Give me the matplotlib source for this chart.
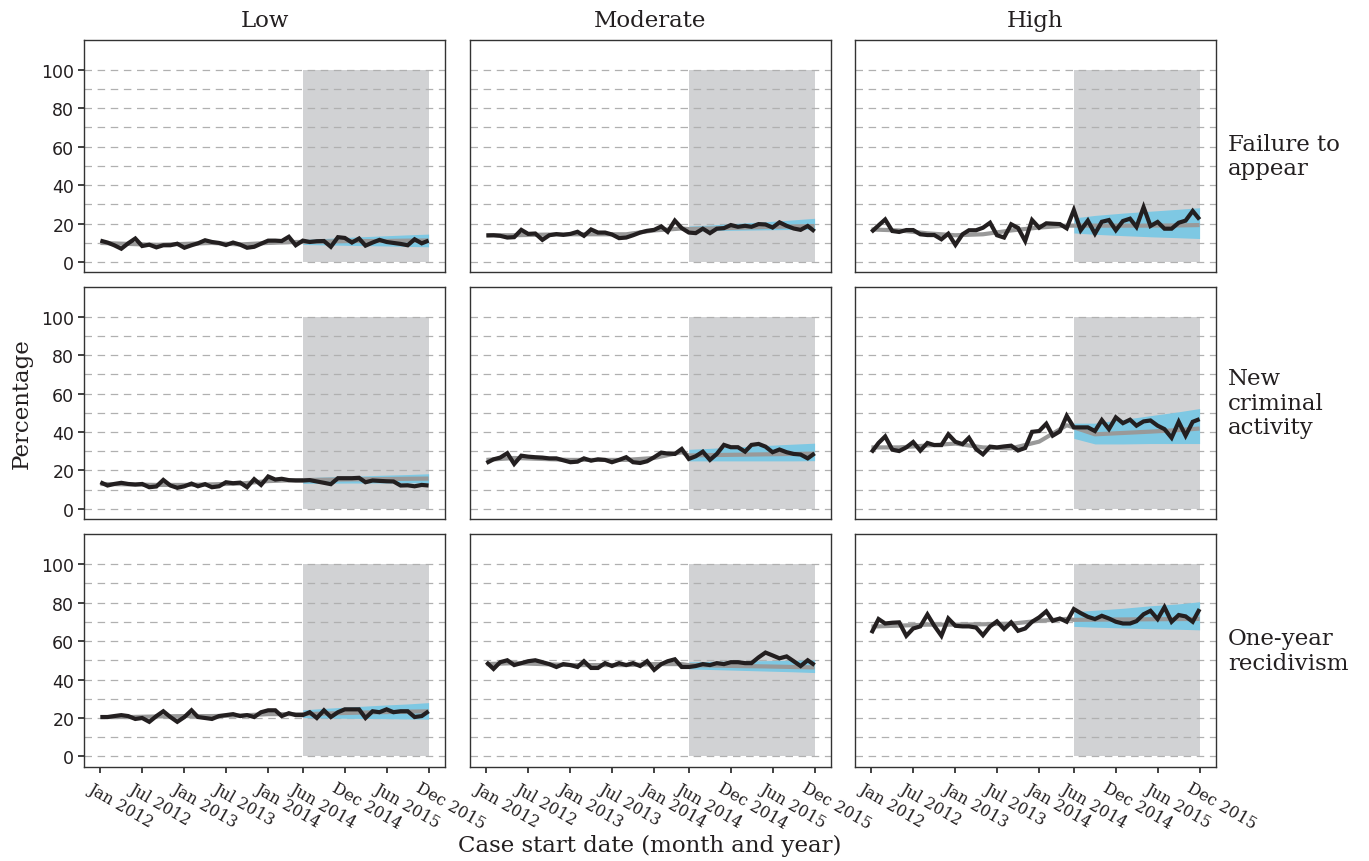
import matplotlib
matplotlib.use('Agg')
import matplotlib.pyplot as plt
import matplotlib.dates as mdates
import matplotlib.transforms as mtransforms
from matplotlib.ticker import MultipleLocator, FixedLocator
import pandas as pd

# ---------------- data ----------------
risk_levels = ['Low', 'Moderate', 'High']
outcomes = ['Failure to\nappear', 'New\ncriminal\nactivity', 'One-year\nrecidivism']
months = pd.date_range('2012-01-01', '2015-12-01', freq='MS')

tick_dates = ['2012-01-01', '2012-07-01', '2013-01-01', '2013-07-01', '2014-01-01',
              '2014-06-01', '2014-12-01', '2015-06-01', '2015-12-01']
tick_labels = ['Jan 2012', 'Jul 2012', 'Jan 2013', 'Jul 2013', 'Jan 2014',
               'Jun 2014', 'Dec 2014', 'Jun 2015', 'Dec 2015']
y_ticks = [0, 20, 40, 60, 80, 100]

shade_start = '2014-06-01'
shade_end = '2015-12-01'
shade_bottom = 0
shade_top = 100

# observed monthly percentages
fta_low = [11.2, 10.2, 8.8, 7.0, 9.8, 12.3, 8.4, 9.1, 7.7, 8.8,
           8.8, 9.6, 7.5, 8.8, 9.8, 11.4, 10.5, 10.0, 8.9, 10.2,
           9.1, 7.5, 8.0, 9.6, 11.2, 11.2, 11.0, 13.2, 8.8, 11.2,
           10.5, 10.9, 11.0, 8.0, 13.0, 12.6, 10.2, 12.3, 8.6, 10.2,
           11.6, 10.5, 10.0, 9.5, 8.8, 11.9, 9.8, 11.2]
fta_mod = [13.9, 14.0, 13.7, 12.8, 13.0, 16.8, 14.7, 14.9, 11.6, 14.0,
           14.6, 14.2, 14.7, 15.8, 13.7, 17.0, 15.4, 15.4, 14.4, 12.5,
           12.8, 14.0, 15.4, 16.3, 16.8, 18.6, 15.8, 21.6, 17.7, 15.4,
           15.1, 17.4, 15.1, 17.4, 17.7, 19.3, 18.4, 18.9, 18.4, 19.8,
           19.6, 18.0, 20.7, 18.9, 17.5, 16.8, 18.8, 16.0]
fta_high = [15.7, 19.1, 22.2, 16.2, 15.7, 16.7, 16.7, 14.5, 14.1, 14.1,
            11.9, 14.8, 9.0, 14.5, 16.6, 16.6, 17.9, 20.5, 14.0, 12.8,
            19.7, 17.8, 11.0, 21.9, 17.9, 20.2, 20.0, 19.8, 17.6, 27.1,
            16.6, 21.6, 14.8, 21.0, 21.9, 16.6, 21.4, 22.6, 18.3, 28.6,
            18.8, 20.9, 17.4, 17.4, 20.5, 21.6, 26.6, 22.2]
nca_low = [13.9, 12.2, 13.0, 13.6, 13.0, 12.7, 13.0, 11.3, 11.7, 15.1,
           12.2, 11.0, 11.8, 13.2, 11.8, 12.9, 11.3, 11.8, 13.9, 13.4,
           13.7, 11.3, 15.5, 12.5, 16.9, 15.3, 15.7, 15.0, 14.8, 14.8,
           15.0, 14.3, 13.6, 12.9, 16.0, 16.0, 16.0, 16.2, 13.9, 14.8,
           14.6, 14.4, 14.3, 12.2, 12.3, 11.8, 12.5, 12.2]
nca_mod = [23.9, 25.8, 26.7, 29.0, 23.4, 27.7, 27.2, 26.9, 26.7, 26.3,
           26.3, 25.3, 24.3, 24.6, 26.3, 25.1, 25.8, 25.5, 24.3, 25.5,
           26.9, 24.3, 23.9, 24.8, 26.9, 29.3, 28.8, 28.6, 31.2, 26.0,
           27.4, 29.8, 25.5, 28.6, 33.3, 32.1, 32.1, 29.8, 33.3, 33.8,
           32.4, 29.5, 30.9, 29.5, 28.6, 28.3, 26.3, 28.9]
nca_high = [29.4, 34.3, 37.7, 30.8, 30.1, 32.0, 34.8, 30.3, 34.3, 33.2,
            33.2, 38.8, 34.9, 33.7, 37.0, 31.1, 28.4, 32.4, 32.0, 32.5,
            32.9, 30.4, 31.7, 40.1, 40.5, 44.3, 38.1, 40.3, 48.4, 42.4,
            42.4, 42.4, 40.5, 46.2, 41.5, 47.6, 44.6, 46.4, 43.3, 45.5,
            46.0, 43.3, 41.5, 37.0, 45.3, 38.1, 45.3, 46.7]
ony_low = [20.5, 20.5, 21.0, 21.5, 21.0, 19.5, 20.0, 18.0, 21.0, 23.5,
           20.5, 18.0, 20.5, 24.0, 20.5, 20.0, 19.5, 21.0, 21.5, 22.0,
           21.0, 21.5, 20.5, 23.0, 24.0, 24.0, 21.0, 22.5, 21.5, 21.5,
           23.0, 20.0, 24.0, 20.5, 23.0, 24.5, 24.5, 24.5, 20.0, 23.5,
           23.0, 24.5, 23.0, 23.5, 23.5, 20.5, 21.0, 23.5]
ony_mod = [49.0, 45.5, 49.0, 50.0, 47.5, 48.5, 49.5, 50.0, 49.0, 48.0,
           46.5, 48.0, 47.5, 46.5, 49.5, 46.0, 46.0, 48.5, 47.0, 48.5,
           47.5, 48.5, 47.0, 49.5, 45.0, 48.0, 49.5, 50.5, 46.5, 46.5,
           47.0, 48.0, 47.5, 48.5, 48.0, 49.0, 49.0, 48.5, 48.5, 51.5,
           54.0, 52.5, 51.0, 52.0, 49.5, 47.0, 50.0, 47.5]
ony_high = [64.1, 71.4, 69.1, 69.5, 69.7, 62.7, 66.5, 67.6, 73.8, 67.9,
            62.7, 71.7, 67.9, 67.6, 67.6, 67.0, 63.0, 67.6, 70.2, 66.2,
            69.7, 65.3, 66.5, 70.0, 72.3, 75.4, 70.5, 71.7, 70.0, 76.6,
            74.5, 72.6, 71.4, 73.1, 71.7, 70.0, 69.1, 69.1, 70.3, 73.9,
            75.7, 71.4, 77.6, 70.0, 73.5, 72.8, 70.0, 76.6]

# fitted / counterfactual model line (grey), at these dates
fit_dates = ['2012-01-01', '2012-05-01', '2012-09-01', '2013-01-01', '2013-05-01',
             '2013-09-01', '2014-01-01', '2014-05-01', '2014-06-01', '2014-09-01',
             '2015-01-01', '2015-05-01', '2015-09-01', '2015-12-01']
fit_fta_low = [10.0, 9.5, 9.0, 9.5, 10.0, 9.2, 10.0, 10.5, 10.5, 10.7, 11.0, 11.0, 11.2, 11.3]
fit_fta_mod = [14.0, 14.0, 14.3, 14.5, 14.5, 14.5, 16.5, 17.5, 17.2, 17.5, 17.9, 18.3, 18.6, 18.8]
fit_fta_high = [17.0, 16.5, 15.0, 14.0, 14.5, 16.5, 18.0, 19.0, 19.0, 19.0, 19.0, 19.0, 19.1, 19.3]
fit_nca_low = [13.0, 12.8, 12.5, 12.5, 12.8, 13.2, 14.5, 15.0, 15.0, 15.2, 15.4, 15.5, 15.7, 15.8]
fit_nca_mod = [25.5, 26.5, 26.0, 25.5, 25.5, 25.5, 26.5, 29.5, 27.8, 28.0, 28.2, 28.4, 28.6, 28.8]
fit_nca_high = [32.0, 32.0, 33.0, 34.0, 32.0, 31.5, 35.0, 43.5, 42.4, 38.8, 39.5, 40.2, 41.0, 41.8]
fit_ony_low = [20.5, 20.5, 20.8, 21.0, 21.0, 21.3, 22.0, 22.0, 22.0, 22.3, 22.7, 23.0, 23.3, 23.5]
fit_ony_mod = [48.0, 48.5, 48.0, 47.5, 47.5, 47.5, 48.0, 48.0, 47.5, 47.3, 47.0, 46.8, 46.5, 46.3]
fit_ony_high = [67.5, 68.0, 68.5, 68.5, 68.7, 69.0, 70.5, 71.5, 71.0, 71.1, 71.2, 71.3, 71.4, 71.5]

# prediction interval (blue ribbon) in the post period
band_dates = ['2014-06-01', '2014-09-01', '2015-01-01', '2015-05-01', '2015-09-01', '2015-12-01']
lo_fta_low = [9.2, 9.0, 8.7, 8.5, 8.2, 8.0]
hi_fta_low = [11.8, 12.3, 13.0, 13.6, 14.2, 14.6]
lo_fta_mod = [16.2, 16.4, 16.6, 16.8, 17.0, 17.2]
hi_fta_mod = [18.8, 19.3, 20.2, 21.0, 22.0, 22.8]
lo_fta_high = [15.2, 14.5, 13.8, 13.2, 12.7, 12.3]
hi_fta_high = [23.0, 24.3, 25.5, 26.5, 27.5, 28.3]
lo_nca_low = [13.3, 13.4, 13.5, 13.5, 13.6, 13.6]
hi_nca_low = [16.2, 16.6, 17.0, 17.5, 17.9, 18.3]
lo_nca_mod = [25.0, 25.0, 25.0, 25.0, 25.0, 25.1]
hi_nca_mod = [31.0, 31.5, 32.3, 33.0, 33.7, 34.2]
lo_nca_high = [36.7, 33.8, 33.8, 34.0, 34.0, 34.0]
hi_nca_high = [44.6, 44.6, 46.5, 48.5, 50.5, 52.2]
lo_ony_low = [20.2, 20.0, 19.8, 19.7, 19.5, 19.4]
hi_ony_low = [24.2, 25.0, 25.8, 26.6, 27.3, 28.0]
lo_ony_mod = [45.5, 45.2, 44.8, 44.4, 44.0, 43.6]
hi_ony_mod = [49.2, 49.4, 49.6, 49.8, 50.0, 50.2]
lo_ony_high = [67.6, 67.2, 66.8, 66.4, 66.1, 65.8]
hi_ony_high = [75.2, 76.0, 77.0, 78.3, 79.3, 80.4]

observed = [[fta_low, fta_mod, fta_high],
            [nca_low, nca_mod, nca_high],
            [ony_low, ony_mod, ony_high]]
fitted = [[fit_fta_low, fit_fta_mod, fit_fta_high],
          [fit_nca_low, fit_nca_mod, fit_nca_high],
          [fit_ony_low, fit_ony_mod, fit_ony_high]]
band_lo = [[lo_fta_low, lo_fta_mod, lo_fta_high],
           [lo_nca_low, lo_nca_mod, lo_nca_high],
           [lo_ony_low, lo_ony_mod, lo_ony_high]]
band_hi = [[hi_fta_low, hi_fta_mod, hi_fta_high],
           [hi_nca_low, hi_nca_mod, hi_nca_high],
           [hi_ony_low, hi_ony_mod, hi_ony_high]]

# ---------------- styling ----------------
W, H = 1369, 862
SERIF = 'DejaVu Serif'
col_left = [84, 470, 855]
panel_w = 361
row_top = [40.7, 287.5, 535.0]
panel_h = 232.5

COL_SHADE = '#D1D2D4'
COL_BAND = '#7EC8E3'
COL_FIT = '#999999'
COL_OBS = '#231F20'
COL_GRID = '#B0B0B0'
COL_TEXT = '#231F20'

fit_x = pd.to_datetime(fit_dates)
band_x = pd.to_datetime(band_dates)
ticks_x = pd.to_datetime(tick_dates)
span = months[-1] - months[0]
xlim = (months[0] - 0.05 * span, months[-1] + 0.05 * span)

fig = plt.figure(figsize=(W / 100, H / 100), dpi=100)
fig.patch.set_facecolor('white')

for r in range(3):
    for c in range(3):
        ax = fig.add_axes([col_left[c] / W, 1 - (row_top[r] + panel_h) / H,
                           panel_w / W, panel_h / H])
        ax.set_xlim(xlim)
        ax.set_ylim(-5.2, 115.6)
        # shaded post period
        ax.fill_between(pd.to_datetime([shade_start, shade_end]), shade_bottom, shade_top,
                        color=COL_SHADE, lw=0, zorder=1)
        # dashed gridlines at major and minor ticks
        ax.yaxis.set_major_locator(FixedLocator(y_ticks))
        ax.yaxis.set_minor_locator(MultipleLocator(10))
        for g in ax.yaxis.get_minorticklocs():
            if g <= 100:
                ax.axhline(g, color=COL_GRID, lw=0.9, ls=(0, (6, 4.5)), zorder=1.5)
        for g in y_ticks:
            ax.axhline(g, color=COL_GRID, lw=0.9, ls=(0, (6, 4.5)), zorder=1.5)
        # ribbon, fitted, observed
        ax.fill_between(band_x, band_lo[r][c], band_hi[r][c], color=COL_BAND, lw=0, zorder=2)
        ax.plot(fit_x, fitted[r][c], color=COL_FIT, lw=3.0, zorder=3,
                solid_joinstyle='round', solid_capstyle='butt')
        ax.plot(months, observed[r][c], color=COL_OBS, lw=3.0, zorder=4,
                solid_joinstyle='miter', solid_capstyle='butt')

        for s in ax.spines.values():
            s.set_color('#333333')
            s.set_linewidth(1.0)
            s.set_zorder(5)
        ax.set_xticks(ticks_x)
        ax.yaxis.set_minor_locator(plt.NullLocator())
        ax.tick_params(axis='both', which='major', direction='out', length=4,
                       width=1.3, color='#333333')
        if c == 0:
            ax.set_yticklabels([str(v) for v in y_ticks], fontsize=12.5,
                               family='DejaVu Sans', color=COL_TEXT)
            ax.tick_params(axis='y', pad=3)
        else:
            ax.tick_params(axis='y', length=0, labelleft=False)
        if r == 2:
            ax.set_xticklabels(tick_labels, fontsize=11.5, family=SERIF, color=COL_TEXT,
                               rotation=-30, ha='left', va='top', rotation_mode='anchor')
            off = mtransforms.ScaledTranslation(-7 / 100, -2 / 100, fig.dpi_scale_trans)
            for lab in ax.get_xticklabels():
                lab.set_transform(lab.get_transform() + off)
        else:
            ax.tick_params(axis='x', length=0, labelbottom=False)

        if r == 0:
            fig.text((col_left[c] + panel_w / 2) / W, 1 - 21 / H, risk_levels[c],
                     ha='center', va='center', fontsize=16.5, family=SERIF, color=COL_TEXT)
        if c == 2:
            fig.text(1228 / W, 1 - (row_top[r] + panel_h / 2) / H, outcomes[r],
                     ha='left', va='center', fontsize=16.5, family=SERIF, color=COL_TEXT,
                     linespacing=1.15)

fig.text(22 / W, 1 - 404 / H, 'Percentage', rotation=90, ha='center', va='center',
         fontsize=16.5, family=SERIF, color=COL_TEXT)
fig.text(650 / W, 1 - 846 / H, 'Case start date (month and year)', ha='center',
         va='center', fontsize=16.5, family=SERIF, color=COL_TEXT)

fig.savefig('out.png', dpi=100, facecolor='white')
